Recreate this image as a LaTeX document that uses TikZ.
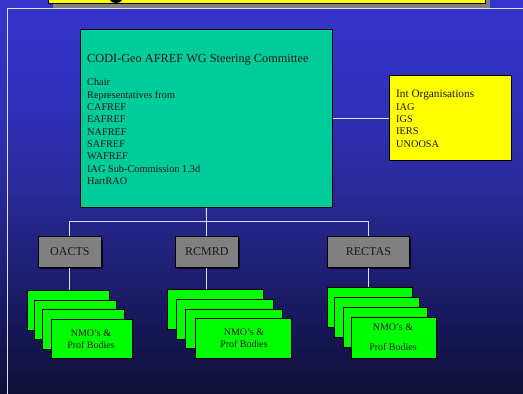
\documentclass[tikz,border=0pt]{standalone}
\usepackage{fontspec}
\setmainfont{Liberation Serif}
\usetikzlibrary{shadows}
\definecolor{bgtop}{HTML}{3434CC}
\definecolor{bgup}{HTML}{3030BC}
\definecolor{bgmid}{HTML}{282894}
\definecolor{bglow}{HTML}{1A1A64}
\definecolor{bgbot}{HTML}{0F0F38}
\definecolor{teal}{HTML}{00CC99}
\definecolor{ylw}{HTML}{FFFF00}
\definecolor{grybox}{HTML}{808080}
\definecolor{grn}{HTML}{00FF00}
\definecolor{wire}{HTML}{E0E0EE}
\definecolor{ink}{HTML}{1A1A1A}
\pgfdeclareverticalshading{bgshade}{100bp}{color(0bp)=(bgbot); color(25bp)=(bgbot); color(36.9bp)=(bglow); color(49.6bp)=(bgmid); color(62.3bp)=(bgup); color(75bp)=(bgtop); color(100bp)=(bgtop)}
\tikzset{
  boxbase/.style={draw=black, line width=0.8pt, inner sep=0pt, anchor=north west},
  mainbox/.style={boxbase, fill=teal},
  orgbox/.style={boxbase, fill=ylw},
  agency/.style={boxbase, fill=grybox, text=ink, font=\fontsize{12}{14}\selectfont,
    drop shadow={shadow xshift=1.2pt, shadow yshift=-1.2pt, fill=black, opacity=0.7}},
  nmo/.style={boxbase, fill=grn, minimum height=39.5pt},
  wireline/.style={draw=wire, line width=0.9pt},
  listtxt/.style={inner sep=0pt, anchor=base west, text=ink, font=\fontsize{10.3}{12}\selectfont},
  nmotxt/.style={inner sep=0pt, anchor=base, text=ink, font=\fontsize{10}{12}\selectfont},
}
\begin{document}
\begin{tikzpicture}[x=1pt,y=-1pt]
\useasboundingbox (0,0) rectangle (523,394);
% background
\shade[shading=bgshade] (0,0) rectangle (523,394);
% top banner remnant
\fill[grybox] (53,0) rectangle (490,8);
\filldraw[fill=ylw, draw=black, line width=0.8pt] (48,-2) rectangle (485,3);
\fill[black] (110,0) .. controls (111,4) and (121,4) .. (122,0) -- cycle;
% frame lines
\draw[draw=wire, line width=0.9pt] (523,8.3) -- (7.8,8.3) -- (7.8,394);

% main committee box
\node[mainbox, minimum width=252pt, minimum height=178pt] (main) at (80,29) {};
\node[listtxt, font=\fontsize{12.3}{14}\selectfont] (title) at (87,62) {CODI-Geo AFREF WG Steering Committee};
\foreach \t [count=\i] in {Chair, Representatives from, CAFREF, EAFREF, NAFREF, SAFREF, WAFREF, IAG Sub-Commission 1.3d, HartRAO}
  \node[listtxt] (m\i) at (87,{85.7+12.375*(\i-1)}) {\t};

% international organisations
\node[orgbox, minimum width=122pt, minimum height=85pt] (intorg) at (389,75) {};
\node[listtxt, font=\fontsize{11.3}{13}\selectfont] (orgtitle) at (396,97.7) {Int Organisations};
\foreach \t [count=\i] in {IAG, IGS, IERS, UNOOSA}
  \node[listtxt] (o\i) at (396,{110+12.4*(\i-1)}) {\t};

% agencies
\node[agency, minimum width=63pt, minimum height=31pt] (oacts) at (38,236) {OACTS};
\node[agency, minimum width=63pt, minimum height=31pt] (rcmrd) at (175,236) {RCMRD};
\node[agency, minimum width=82pt, minimum height=31pt] (rectas) at (327,236) {RECTAS};

% connectors
\coordinate (bus) at (206.5,221.5);
\draw[wireline] (main.east) -- (main.east -| intorg.west);
\draw[wireline] (main.south) -- (bus);
\draw[wireline] (oacts.north) |- (bus) -| (rectas.north);
\draw[wireline] (rcmrd.north) -- (rcmrd.north |- bus);

% NMO stacks
\node[nmo, minimum width=82pt] (a1) at (27,290) {};
\node[nmo, minimum width=82pt] (a2) at (34,299.5) {};
\node[nmo, minimum width=82pt] (a3) at (42,309) {};
\node[nmo, minimum width=81pt] (a4) at (51,318.5) {};
\node[nmotxt] (a4t1) at (91,336.7) {NMO’s \&};
\node[nmotxt] (a4t2) at (91,348.3) {Prof Bodies};

\node[nmo, minimum width=96pt] (b1) at (167,289) {};
\node[nmo, minimum width=97pt] (b2) at (176,299) {};
\node[nmo, minimum width=97pt] (b3) at (185,308.5) {};
\node[nmo, minimum width=96pt] (b4) at (195,318) {};
\node[nmotxt] (b4t1) at (244,335) {NMO’s \&};
\node[nmotxt] (b4t2) at (244,347) {Prof Bodies};

\node[nmo, minimum width=85pt] (c1) at (327,287) {};
\node[nmo, minimum width=85pt] (c2) at (334,297) {};
\node[nmo, minimum width=84pt] (c3) at (343,307) {};
\node[nmo, minimum width=85pt, minimum height=41pt] (c4) at (351,317) {};
\node[nmotxt] (c4t1) at (393,330.7) {NMO’s \&};
\node[nmotxt] (c4t2) at (393,350) {Prof Bodies};

\draw[wireline] (oacts.south) -- (oacts.south |- a1.north);
\draw[wireline] (rcmrd.south) -- (rcmrd.south |- b1.north);
\draw[wireline] (rectas.south) -- (rectas.south |- c1.north);
\end{tikzpicture}
\end{document}
